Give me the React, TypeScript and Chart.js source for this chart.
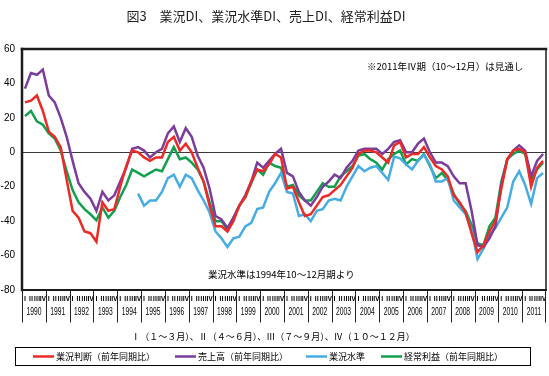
import { useEffect, useRef } from 'react';
import { Chart, registerables } from 'chart.js';

Chart.register(...registerables);

const years = [1990, 1991, 1992, 1993, 1994, 1995, 1996, 1997, 1998, 1999, 2000, 2001, 2002, 2003, 2004, 2005, 2006, 2007, 2008, 2009, 2010, 2011];
const quarterMarks = ['Ⅰ', 'Ⅱ', 'Ⅲ', 'Ⅳ'];
const yTicks = [-80, -60, -40, -20, 0, 20, 40, 60];

const seriesNames = ['業況判断（前年同期比）', '売上高（前年同期比）', '業況水準', '経常利益（前年同期比）'];
const seriesColors = ['#ec2a26', '#7b3c9c', '#45ace4', '#12a04e'];

// 業況判断 1990Q1..2011Q4
const judgment = [29, 30, 33, 24, 12, 9, 3, -16, -34, -38, -46, -47, -52, -29, -34, -33, -20, -8, 1, 0, -3, -5, -3, -3, 6, 9, 1, 5, 0, -9, -17, -31, -43, -43, -46, -40, -31, -26, -17, -10, -11, -7, -1, -3, -21, -20, -29, -37, -36, -31, -26, -25, -22, -19, -14, -9, -1, 1, 1, 0, -3, -6, 4, 6, -3, -1, -1, 3, -3, -8, -10, -14, -25, -29, -35, -47, -58, -54, -46, -40, -21, -4, 1, 2, 0, -20, -9, -5];
// 売上高 1990Q1..2011Q4
const sales = [37, 46, 45, 48, 33, 29, 20, 9, -5, -18, -23, -27, -34, -23, -28, -25, -17, -9, 2, 3, 1, -3, 0, 2, 11, 15, 6, 14, 9, -2, -9, -21, -37, -39, -44, -38, -31, -25, -17, -6, -9, -5, -1, 2, -12, -14, -23, -28, -31, -26, -20, -17, -13, -15, -9, -5, 1, 2, 2, 2, -1, 2, 6, 7, 0, 0, 5, 8, 0, -6, -6, -8, -14, -18, -18, -34, -54, -55, -50, -43, -19, -4, 1, 4, 1, -14, -5, -1];
// 業況水準 from 1994Q4..2011Q4
const levelStartIndex = 19;
const level = [-24, -31, -28, -28, -23, -15, -13, -20, -13, -15, -22, -28, -35, -46, -50, -55, -50, -49, -43, -41, -33, -32, -23, -18, -12, -23, -24, -37, -36, -40, -34, -33, -28, -27, -28, -20, -14, -8, -11, -9, -8, -12, -16, -2.5, -3.5, -7, -10, -5, -1.5, -7, -17, -17, -15, -28, -32, -36, -45, -62, -56, -48, -44, -38, -32, -17, -11, -19, -30, -15, -12];
// 経常利益 1990Q1..2011Q4
const profit = [21, 24, 18, 16, 11, 8, 1, -11, -22, -29, -33, -36, -39.5, -32, -38, -34, -26, -19, -10, -12, -14, -12, -10, -11, -4, 3, -4, -3, -6, -10, -17, -29, -40, -40, -45, -38, -31, -26, -18, -10, -13, -6, -8, -9, -20, -19, -25, -28, -28, -23, -18, -20, -20, -14, -11, -8, -2, -1, -4, -6, -10, -4, -1, 1, -7, -4, -5, -1, -8, -15, -12, -16, -24, -30, -34, -42, -53, -54, -43, -38, -17, -4, -1, 1, -1, -16, -10, -6];

const titleText = '図3　業況DI、業況水準DI、売上DI、経常利益DI';
const noteForecast = '※2011年Ⅳ期（10～12月）は見通し';
const noteLevel = '業況水準は1994年10～12月期より';
const quarterNote = 'Ⅰ（１～３月）、Ⅱ（４～６月）、Ⅲ（７～９月）、Ⅳ（１０～１２月）';

const JP = '"Noto Sans CJK JP", "Noto Sans", sans-serif';

const decorPlugin = {
  id: 'decor',
  afterDraw(chart: any) {
    const { ctx, chartArea: a, scales } = chart;
    const x = scales.x;
    ctx.save();
    // frame
    ctx.strokeStyle = '#1c1c1c';
    ctx.lineCap = 'square';
    ctx.lineWidth = 2.5;
    ctx.beginPath();
    ctx.moveTo(a.left, a.top);
    ctx.lineTo(a.right, a.top);
    ctx.stroke();
    ctx.beginPath();
    ctx.moveTo(a.left, a.top);
    ctx.lineTo(a.left, a.bottom);
    ctx.stroke();
    ctx.lineWidth = 2;
    ctx.beginPath();
    ctx.moveTo(a.left, a.bottom);
    ctx.lineTo(a.right, a.bottom);
    ctx.stroke();
    ctx.lineWidth = 1.5;
    ctx.beginPath();
    ctx.moveTo(a.right, a.top);
    ctx.lineTo(a.right, a.bottom);
    ctx.stroke();

    // year separators, quarter marks, year labels
    const half = (x.getPixelForValue(1) - x.getPixelForValue(0)) / 2;
    ctx.lineWidth = 1;
    ctx.strokeStyle = '#222';
    ctx.fillStyle = '#000';
    ctx.textBaseline = 'middle';
    years.forEach((yr, k) => {
      const left = Math.round(x.getPixelForValue(k * 4) - half) + 0.5;
      ctx.beginPath();
      ctx.moveTo(left, a.bottom);
      ctx.lineTo(left, a.bottom + 32);
      ctx.stroke();
      ctx.textAlign = 'center';
      ctx.font = `bold 6.5px ${JP}`;
      quarterMarks.forEach((q, j) => {
        ctx.fillText(q, x.getPixelForValue(k * 4 + j), a.bottom + 8.5);
      });
      const cx = (x.getPixelForValue(k * 4 + 1) + x.getPixelForValue(k * 4 + 2)) / 2;
      ctx.save();
      ctx.translate(cx, a.bottom + 22);
      ctx.scale(0.64, 1);
      ctx.font = '10.5px "Liberation Sans", Arial, sans-serif';
      ctx.fillText(String(yr), 0, 0);
      ctx.restore();
    });
    const rightEdge = Math.round(x.getPixelForValue(years.length * 4 - 1) + half) - 0.5;
    ctx.beginPath();
    ctx.moveTo(rightEdge, a.bottom);
    ctx.lineTo(rightEdge, a.bottom + 32);
    ctx.stroke();

    // title
    ctx.textAlign = 'center';
    ctx.fillStyle = '#222';
    ctx.font = `13px ${JP}`;
    ctx.fillText(titleText, 266, 16);

    // notes in plot
    ctx.fillStyle = '#000';
    ctx.textAlign = 'left';
    ctx.font = `9.5px ${JP}`;
    ctx.fillText(noteForecast, 367, 66);
    ctx.fillText(noteLevel, 208, 274);

    // quarter note
    ctx.textAlign = 'center';
    ctx.font = `9px ${JP}`;
    ctx.fillText(quarterNote, 273, 337);

    // legend box
    ctx.strokeStyle = '#000';
    ctx.lineWidth = 1;
    ctx.strokeRect(15.5, 347.5, 515, 18);
    const itemX = [33, 175, 306, 381];
    chart.data.datasets.forEach((ds: any, i: number) => {
      const lx = itemX[i];
      ctx.strokeStyle = ds.borderColor;
      ctx.lineWidth = 2.5;
      ctx.lineCap = 'butt';
      ctx.beginPath();
      ctx.moveTo(lx, 356.5);
      ctx.lineTo(lx + 21, 356.5);
      ctx.stroke();
      ctx.fillStyle = '#000';
      ctx.textAlign = 'left';
      ctx.font = `9px ${JP}`;
      ctx.fillText(ds.label, lx + 23, 357);
    });
    ctx.restore();
  },
};

export default function App() {
  const ref = useRef<HTMLCanvasElement | null>(null);

  useEffect(() => {
    document.body.style.margin = '0';
    const canvas = ref.current;
    if (!canvas) return;
    const labels = years.flatMap((y) => quarterMarks.map((q) => `${y}${q}`));
    const levelFull = [...Array(levelStartIndex).fill(null), ...level];
    const seriesData = [judgment, sales, levelFull, profit];
    const chart = new Chart(canvas, {
      type: 'line',
      data: {
        labels,
        datasets: seriesData.map((d, i) => ({
          label: seriesNames[i],
          data: d,
          borderColor: seriesColors[i],
          backgroundColor: seriesColors[i],
          borderWidth: 2.5,
          pointRadius: 0,
          tension: 0,
          fill: false,
          spanGaps: false,
        })),
      },
      options: {
        responsive: false,
        animation: false,
        devicePixelRatio: 1,
        layout: { padding: { top: 49, right: 3, left: 0, bottom: 0 } },
        plugins: {
          legend: { display: false },
          title: { display: false },
          tooltip: { enabled: false },
        },
        scales: {
          x: {
            type: 'category',
            offset: true,
            grid: { display: false, drawTicks: false },
            border: { display: false },
            ticks: { display: false },
            afterFit: (s: any) => {
              s.height = 86;
            },
          },
          y: {
            min: yTicks[0],
            max: yTicks[yTicks.length - 1],
            afterBuildTicks: (s: any) => {
              s.ticks = yTicks.map((v) => ({ value: v }));
            },
            ticks: {
              color: '#000',
              padding: 7,
              font: { size: 10, family: '"Liberation Sans", Arial, sans-serif' },
            },
            grid: {
              drawTicks: false,
              lineWidth: 1,
              color: (c: any) => (c.tick && c.tick.value === 0 ? '#3a3a3a' : 'rgba(0,0,0,0)'),
            },
            border: { display: false },
            afterFit: (s: any) => {
              s.width = 22;
            },
          },
        },
      },
      plugins: [decorPlugin],
    });
    return () => chart.destroy();
  }, []);

  return (
    <div style={{ width: 549, height: 376, background: '#fff' }}>
      <canvas ref={ref} width={549} height={376} />
    </div>
  );
}
